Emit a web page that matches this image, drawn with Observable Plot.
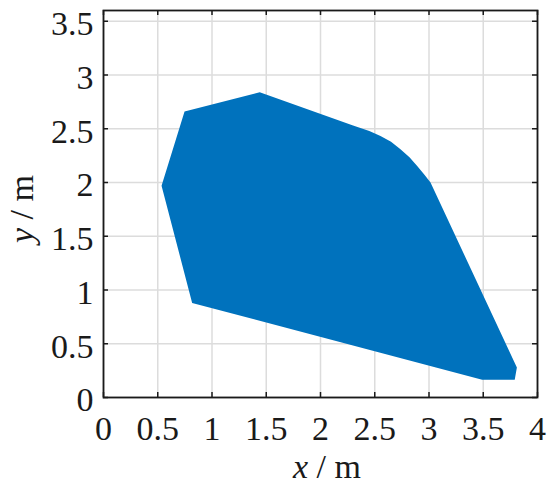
<!DOCTYPE html>
<html><head><meta charset="utf-8">
<script src="https://cdn.jsdelivr.net/npm/d3@7"></script>
<script src="https://cdn.jsdelivr.net/npm/@observablehq/plot@0.6"></script>
<style>body{margin:0;background:#fff}</style>
</head><body><div id="chart"></div>
<script>
// Polygon vertices (m)
const regionX = [0.535, 0.747, 1.44, 2.30, 2.45, 2.553, 2.65, 2.737, 2.82, 2.891, 2.96, 3.014, 3.81, 3.79, 3.49, 0.817];
const regionY = [1.97, 2.66, 2.84, 2.53, 2.48, 2.433, 2.38, 2.309, 2.235, 2.154, 2.07, 1.999, 0.28, 0.165, 0.165, 0.88];
const xTicks = [0, 0.5, 1, 1.5, 2, 2.5, 3, 3.5, 4];
const yTicks = [0, 0.5, 1, 1.5, 2, 2.5, 3, 3.5];
const xDomain = [0, 4];
const yDomain = [0, 3.6];
const xVar = "x", yVar = "y", unitText = " / m";

const region = regionX.map((x, i) => ({x, y: regionY[i]}));
const W = 550, H = 489, mL = 103, mR = 13, mT = 10, mB = 92;
const innerW = W - mL - mR, innerH = H - mT - mB;
const tickLen = 5;
const ink = "#1a1a1a";
const font = "'Liberation Serif', 'DejaVu Serif', serif";
const fmt = d => String(d);

const plot = Plot.plot({
  width: W, height: H,
  marginLeft: mL, marginRight: mR, marginTop: mT, marginBottom: mB,
  style: {fontFamily: font, fontSize: "34px", background: "#fff", color: ink},
  x: {domain: xDomain},
  y: {domain: yDomain},
  marks: [
    Plot.gridX(xTicks, {stroke: "#dcdcdc", strokeOpacity: 1, strokeWidth: 1.5}),
    Plot.gridY(yTicks, {stroke: "#dcdcdc", strokeOpacity: 1, strokeWidth: 1.5}),
    Plot.line(region, {x: "x", y: "y", curve: "linear-closed", fill: "#0072BD", stroke: "none"}),
    Plot.ruleX(xTicks, {insetTop: innerH - tickLen, stroke: ink, strokeWidth: 1.5}),
    Plot.ruleX(xTicks, {insetBottom: innerH - tickLen, stroke: ink, strokeWidth: 1.5}),
    Plot.ruleY(yTicks, {insetRight: innerW - tickLen, stroke: ink, strokeWidth: 1.5}),
    Plot.ruleY(yTicks, {insetLeft: innerW - tickLen, stroke: ink, strokeWidth: 1.5}),
    Plot.frame({stroke: ink, strokeWidth: 1.8}),
    Plot.axisX(xTicks, {tickSize: 0, tickPadding: 18, tickFormat: fmt, label: null}),
    Plot.axisY(yTicks, {tickSize: 0, tickPadding: 10, dy: 3, tickFormat: fmt, label: null})
  ]
});

const svg = d3.select(plot);
const xl = svg.append("text")
  .attr("x", 327).attr("y", 478)
  .attr("text-anchor", "middle")
  .attr("font-family", font).attr("font-size", 34).attr("fill", ink);
xl.append("tspan").attr("font-style", "italic").text(xVar);
xl.append("tspan").text(unitText);

const yl = svg.append("text")
  .attr("transform", "translate(33,209) rotate(-90)")
  .attr("text-anchor", "middle")
  .attr("font-family", font).attr("font-size", 34).attr("fill", ink);
yl.append("tspan").attr("font-style", "italic").text(yVar);
yl.append("tspan").text(unitText);

document.getElementById("chart").appendChild(plot);
</script>
</body></html>
